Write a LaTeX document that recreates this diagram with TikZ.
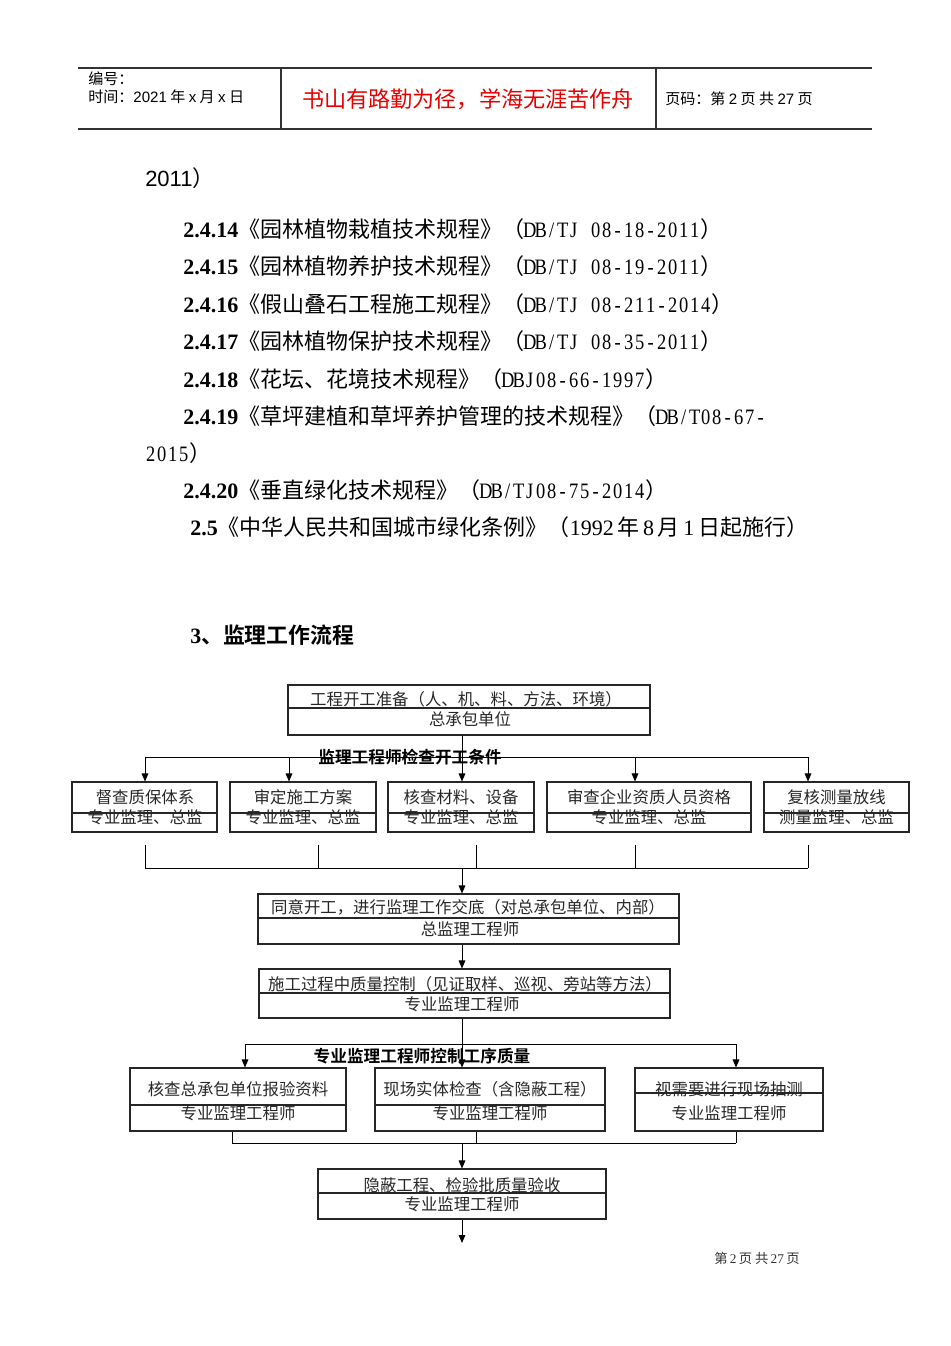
\documentclass[tikz,border=0pt]{standalone}
\usepackage{fontspec}
\usepackage{graphicx}
\setmainfont{Liberation Serif}
\newfontfamily\cjk{Noto Sans CJK SC}[BoldFont={Noto Sans CJK SC Bold}]
\newfontfamily\arialf{Liberation Sans}
\usetikzlibrary{arrows.meta}

\newcommand\hwc[1]{\hwcaux#1\relax}
\def\hwcaux#1{\ifx#1\relax\else\makebox[0.5em]{\rmfamily\scalebox{0.84}[1]{#1}}\expandafter\hwcaux\fi}
\newcommand\numb[1]{{\rmfamily\bfseries #1}}
\newcommand\mkbx[5]{\node[boxst, minimum width={(#4-#2)*0.75pt}, minimum height={(#5-#3)*0.75pt}] (#1) at ({(#2+#4)/2},{(#3+#5)/2}) {};}
\newcommand\mkdiv[2]{\draw[boxline] (#1.west |- 0,#2) -- (#1.east |- 0,#2);}

\tikzset{
  body/.style={anchor=west, inner sep=0pt, font=\cjk\fontsize{16.5pt}{20pt}\selectfont},
  hdr/.style={anchor=west, inner sep=0pt, font=\cjk\fontsize{11.3pt}{13pt}\selectfont},
  redt/.style={inner sep=0pt, text={rgb,255:red,230;green,0;blue,0}, font=\cjk\fontsize{16.6pt}{19pt}\selectfont},
  foot/.style={inner sep=0pt, text=black!80, font=\cjk\fontsize{10pt}{12pt}\selectfont},
  hline/.style={line width=0.9pt, draw=black!80},
  boxst/.style={draw=black!85, line width=0.8pt, inner sep=0pt, rectangle},
  boxline/.style={draw=black!85, line width=0.8pt},
  ftxt/.style={inner sep=0pt, text=black!85, font=\cjk\fontsize{12.3pt}{14pt}\selectfont},
  flbl/.style={inner sep=0pt, font=\cjk\bfseries\fontsize{12.5pt}{14pt}\selectfont},
  conn/.style={line width=0.7pt, draw=black},
  arr/.style={conn, -{Triangle[length=6pt,width=5pt]}},
}

\begin{document}
\begin{tikzpicture}[x=0.75pt,y=-0.75pt]
\useasboundingbox (0,0) rectangle (950,1346);

% ---------- header ----------
\draw[hline] (78,68) -- (872,68);
\draw[hline] (78,129) -- (872,129);
\draw[hline] (281,68) -- (281,129);
\draw[hline] (656,68) -- (656,129);
\node[hdr] (hno) at (88,79) {编号：};
\node[hdr] (htime) at (88,97) {时间：{\arialf 2021} 年 {\arialf x} 月 {\arialf x} 日};
\node[redt] (motto) at (468,99) {书山有路勤为径，学海无涯苦作舟};
\node[hdr] (hpage) at (665,99) {页码：第 {\arialf 2} 页 共 {\arialf 27} 页};

% ---------- body text ----------
\node[body] (l0) at (145,178) {{\arialf 2011}）};
\node[body] (l1) at (183,229) {\numb{2.4.14}《园林植物栽植技术规程》（\hwc{DB/TJ\ 08-18-2011}）};
\node[body] (l2) at (183,266) {\numb{2.4.15}《园林植物养护技术规程》（\hwc{DB/TJ\ 08-19-2011}）};
\node[body] (l3) at (183,304) {\numb{2.4.16}《假山叠石工程施工规程》（\hwc{DB/TJ\ 08-211-2014}）};
\node[body] (l4) at (183,341) {\numb{2.4.17}《园林植物保护技术规程》（\hwc{DB/TJ\ 08-35-2011}）};
\node[body] (l5) at (183,379) {\numb{2.4.18}《花坛、花境技术规程》（\hwc{DBJ08-66-1997}）};
\node[body] (l6) at (183,416) {\numb{2.4.19}《草坪建植和草坪养护管理的技术规程》（\hwc{DB/T08-67-}};
\node[body] (l7) at (145,453) {\hwc{2015}）};
\node[body] (l8) at (183,490) {\numb{2.4.20}《垂直绿化技术规程》（\hwc{DB/TJ08-75-2014}）};
\node[body] (l9) at (190,527) {\numb{2.5}《中华人民共和国城市绿化条例》（{\rmfamily 1992}\,年\,{\rmfamily 8}\,月\,{\rmfamily 1}\,日起施行）};
\node[body, font=\cjk\bfseries\fontsize{16.4pt}{19pt}\selectfont] (h3) at (190,635) {{\rmfamily\bfseries 3}、监理工作流程};

% ---------- flowchart boxes ----------
\mkbx{bS}{288}{685}{650}{735}
\mkdiv{bS}{708}
\node[ftxt] (tS1) at (466,699) {工程开工准备（人、机、料、方法、环境）};
\node[ftxt] (tS2) at (470,719) {总承包单位};

\mkbx{bA}{72}{782}{217}{832}
\mkbx{bB}{230}{782}{376}{832}
\mkbx{bC}{388}{782}{534}{832}
\mkbx{bD}{547}{782}{751}{832}
\mkbx{bE}{764}{782}{909}{832}
\mkdiv{bA}{813}\mkdiv{bB}{813}\mkdiv{bC}{813}\mkdiv{bD}{813}\mkdiv{bE}{813}
\node[ftxt] (tA1) at (145,797) {督查质保体系};
\node[ftxt] (tA2) at (145,817) {专业监理、总监};
\node[ftxt] (tB1) at (303,797) {审定施工方案};
\node[ftxt] (tB2) at (303,817) {专业监理、总监};
\node[ftxt] (tC1) at (461,797) {核查材料、设备};
\node[ftxt] (tC2) at (461,817) {专业监理、总监};
\node[ftxt] (tD1) at (649,797) {审查企业资质人员资格};
\node[ftxt] (tD2) at (649,817) {专业监理、总监};
\node[ftxt] (tE1) at (836.5,797) {复核测量放线};
\node[ftxt] (tE2) at (836.5,817) {测量监理、总监};

\mkbx{bF}{258}{894}{679}{944}
\mkdiv{bF}{918}
\node[ftxt] (tF1) at (468,907) {同意开工，进行监理工作交底（对总承包单位、内部）};
\node[ftxt] (tF2) at (470,929) {总监理工程师};

\mkbx{bG}{259}{969}{670}{1018}
\mkdiv{bG}{993}
\node[ftxt] (tG1) at (465,984) {施工过程中质量控制（见证取样、巡视、旁站等方法）};
\node[ftxt] (tG2) at (462,1004) {专业监理工程师};

\mkbx{bH}{130}{1068}{346}{1131}
\mkbx{bI}{375}{1068}{605}{1131}
\mkbx{bJ}{635}{1068}{823}{1131}
\mkdiv{bH}{1105}\mkdiv{bI}{1105}\mkdiv{bJ}{1093}
\node[ftxt] (tH1) at (238,1089) {核查总承包单位报验资料};
\node[ftxt] (tH2) at (238,1113) {专业监理工程师};
\node[ftxt] (tI1) at (490,1089) {现场实体检查（含隐蔽工程）};
\node[ftxt] (tI2) at (490,1113) {专业监理工程师};
\node[ftxt] (tJ1) at (729,1089) {视需要进行现场抽测};
\node[ftxt] (tJ2) at (729,1113) {专业监理工程师};

\mkbx{bK}{318}{1169}{606}{1219}
\mkdiv{bK}{1193}
\node[ftxt] (tK1) at (462,1185) {隐蔽工程、检验批质量验收};
\node[ftxt] (tK2) at (462,1204) {专业监理工程师};

% ---------- connectors ----------
% top bus
\coordinate (pA) at (145,757);
\coordinate (pB) at (289,757);
\coordinate (pC) at (462,757);
\coordinate (pD) at (635,757);
\coordinate (pE) at (808,757);
\draw[conn] (pA) -- (pE);
\draw[arr] (bS.south -| pC) -- (pC |- bC.north);
\draw[arr] (pA) -- (pA |- bA.north);
\draw[arr] (pB) -- (pB |- bB.north);
\draw[arr] (pD) -- (pD |- bD.north);
\draw[arr] (pE) -- (pE |- bE.north);
\node[flbl] (lab1) at (410,757) {监理工程师检查开工条件};

% lower collector of row
\coordinate (qA) at (145,845);
\coordinate (qB) at (318,845);
\coordinate (qC) at (476,845);
\coordinate (qD) at (635,845);
\coordinate (qE) at (808,845);
\coordinate (rA) at (145,868);
\coordinate (rE) at (808,868);
\coordinate (rM) at (462,868);
\draw[conn] (qA) -- (qA |- rA);
\draw[conn] (qB) -- (qB |- rA);
\draw[conn] (qC) -- (qC |- rA);
\draw[conn] (qD) -- (qD |- rA);
\draw[conn] (qE) -- (qE |- rA);
\draw[conn] (rA) -- (rE);
\draw[arr] (rM) -- (rM |- bF.north);

\draw[arr] (bF.south -| rM) -- (rM |- bG.north);

% second bus
\coordinate (sH) at (245,1044);
\coordinate (sM) at (462,1044);
\coordinate (sJ) at (736,1044);
\draw[conn] (sH) -- (sJ);
\draw[arr] (bG.south -| sM) -- (sM |- bI.north);
\draw[arr] (sH) -- (sH |- bH.north);
\draw[arr] (sJ) -- (sJ |- bJ.north);
\node[flbl] (lab2) at (422,1056) {专业监理工程师控制工序质量};

% bottom collector
\coordinate (uH) at (232,1143);
\coordinate (uI) at (476,1143);
\coordinate (uJ) at (736,1143);
\coordinate (uM) at (462,1143);
\draw[conn] (bH.south -| uH) -- (uH);
\draw[conn] (bI.south -| uI) -- (uI);
\draw[conn] (bJ.south -| uJ) -- (uJ);
\draw[conn] (uH) -- (uJ);
\draw[arr] (uM) -- (uM |- bK.north);

\coordinate (endp) at (462,1243);
\draw[arr] (bK.south -| endp) -- (endp);

% ---------- footer ----------
\node[foot] (foot) at (757,1258) {第\,{\rmfamily 2}\,页 共\,{\rmfamily 27}\,页};
\end{tikzpicture}
\end{document}
